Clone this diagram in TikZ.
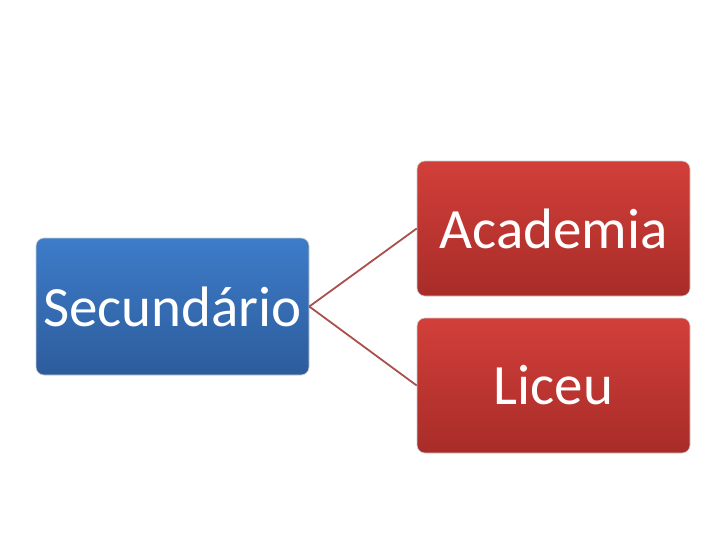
\documentclass[tikz,border=0pt]{standalone}
\usepackage{fontspec}
\setmainfont{Carlito}
\definecolor{bluetop}{HTML}{3D7CC9}
\definecolor{bluebot}{HTML}{2D5C9C}
\definecolor{redtop}{HTML}{D23F3A}
\definecolor{redbot}{HTML}{A82C28}
\definecolor{linkred}{HTML}{A9504C}
\tikzset{
  box/.style={rounded corners=8pt, minimum width=273pt, inner sep=0pt,
    font=\fontsize{57}{61}\selectfont, text=white, draw=white!60!gray, line width=0.6pt},
  bluebox/.style={box, minimum height=137pt, top color=bluetop, bottom color=bluebot},
  redbox/.style={box, minimum height=135pt, top color=redtop, bottom color=redbot},
  link/.style={draw=linkred, line width=1.8pt}
}
\begin{document}
\begin{tikzpicture}[x=1pt,y=-1pt]
  \useasboundingbox (0,0) rectangle (728,546);
  \node[bluebox] (sec) at (172.5,306.5) {Secundário};
  \node[redbox] (aca) at (553.5,228.5) {Academia};
  \node[redbox] (lic) at (553.5,385.5) {Liceu};
  \begin{scope}[link]
    \draw (sec.east) to (aca.west);
    \draw (sec.east) to (lic.west);
  \end{scope}
\end{tikzpicture}
\end{document}
